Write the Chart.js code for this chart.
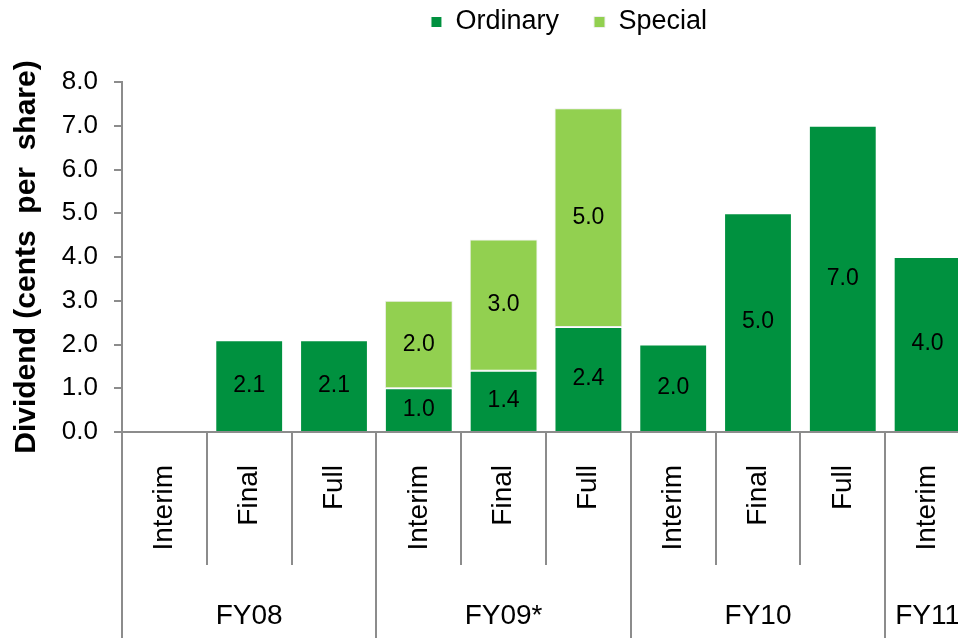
<!DOCTYPE html>
<html>
<head>
<meta charset="utf-8">
<title>Dividend</title>
<script src="https://cdn.jsdelivr.net/npm/chart.js@4.4.0/dist/chart.umd.min.js"></script>
<style>
    html, body { margin: 0; padding: 0; background: #fff; overflow: hidden; }
    #wrap { width: 970px; height: 638px; }
</style>
</head>
<body>
<div id="wrap"><canvas id="dividend-chart" width="970" height="638"></canvas></div>
<script>
    // Data
    var periods = ["Interim", "Final", "Full", "Interim", "Final", "Full", "Interim", "Final", "Full", "Interim"];
    var years = ["FY08", "FY09*", "FY10", "FY11"];
    var yearSizes = [3, 3, 3, 1];
    var ordinary = [0, 2.1, 2.1, 1.0, 1.4, 2.4, 2.0, 5.0, 7.0, 4.0];
    var special = [0, 0, 0, 2.0, 3.0, 5.0, 0, 0, 0, 0];
    var yRange = [0, 8];


    // Year groups: where the long separators go, and which column carries the year
    var yearBounds = [0];
    var yearAt = {};
    var start = 0;
    yearSizes.forEach(function (n, i) {
        yearAt[start + Math.floor((n - 1) / 2)] = years[i];
        start += n;
        yearBounds.push(start);
    });

    var axisGrey = "#8c8c8c";
    Chart.defaults.font.family = "'Liberation Sans', Arial, sans-serif";
    Chart.defaults.color = "#000000";


    // Values written in the middle of each bar piece
    var barLabels = {
        id: "barLabels",
        afterDatasetsDraw: function (chart) {
            var ctx = chart.ctx;
            ctx.save();
            ctx.font = "23px 'Liberation Sans', Arial, sans-serif";
            ctx.fillStyle = "#000000";
            ctx.textAlign = "center";
            ctx.textBaseline = "middle";
            chart.data.datasets.forEach(function (ds, i) {
                chart.getDatasetMeta(i).data.forEach(function (bar, j) {
                    var v = ds.data[j];
                    if (!v) return;
                    ctx.fillText(v.toFixed(1), bar.x, (bar.y + bar.base) / 2);
                });
            });
            ctx.restore();
        }
    };


    // Legend sits right of centre, close to the top edge
    var legendPlace = {
        id: "legendPlace",
        afterLayout: function (chart) {
            var lg = chart.legend;
            var opts = lg.options.labels;
            var dx = 569 - (lg.left + lg.right) / 2;
            var dy = 22 - (lg.top + opts.padding + opts.font.size / 2);
            lg.left += dx; lg.right += dx;
            lg.top += dy; lg.bottom += dy;
        }
    };


    var ctx1 = document.getElementById("dividend-chart").getContext("2d");
    var myChart = new Chart(ctx1, {
        type: "bar",
        data: {
            labels: periods,
            datasets: [{
                    label: "Ordinary",
                    data: ordinary,
                    backgroundColor: "#00913F",
                    borderColor: "#ffffff",
                    borderWidth: 1,
                    borderSkipped: "start",
                    categoryPercentage: 0.8,
                    barPercentage: 1.0
                },
                {
                    label: "Special",
                    data: special,
                    backgroundColor: "#92D050",
                    borderColor: "#eeeeee",
                    borderWidth: 1,
                    borderSkipped: false,
                    categoryPercentage: 0.8,
                    barPercentage: 1.0
                }
            ]
        },
        options: {
            responsive: false,
            animation: false,
            layout: { padding: { top: 10, left: 0, right: 0, bottom: 0 } },
            plugins: {
                legend: {
                    position: "top",
                    labels: {
                        boxWidth: 11,
                        boxHeight: 11,
                        padding: 35,
                        color: "#000000",
                        font: { size: 27 }
                    }
                },
                tooltip: { enabled: false }
            },
            scales: {
                x: {
                    stacked: true,
                    offset: true,
                    ticks: {
                        autoSkip: false,
                        minRotation: 90,
                        maxRotation: 90,
                        padding: -100,
                        font: { size: 28 }
                    },
                    grid: {
                        offset: true,
                        drawOnChartArea: false,
                        tickLength: 133,
                        color: axisGrey,
                        lineWidth: 2
                    },
                    border: { color: axisGrey, width: 2 },
                    afterFit: function (s) { s.height = 133; }
                },
                x2: {
                    type: "category",
                    labels: periods,
                    position: "bottom",
                    offset: true,
                    ticks: {
                        autoSkip: false,
                        minRotation: 0,
                        maxRotation: 0,
                        padding: -39,
                        font: { size: 28 },
                        callback: function (v, i) { return yearAt[i] || ""; }
                    },
                    grid: {
                        offset: true,
                        drawOnChartArea: false,
                        tickLength: 73,
                        lineWidth: 2,
                        color: function (c) {
                            return yearBounds.indexOf(c.index) >= 0 ? axisGrey : "rgba(0,0,0,0)";
                        }
                    },
                    border: { display: false },
                    afterFit: function (s) { s.height = 73; }
                },
                y: {
                    stacked: true,
                    min: yRange[0],
                    max: yRange[1],
                    ticks: {
                        stepSize: 1,
                        padding: 16,
                        font: { size: 26 },
                        callback: function (v) { return v.toFixed(1); }
                    },
                    grid: {
                        drawOnChartArea: false,
                        tickLength: 8,
                        color: axisGrey,
                        lineWidth: 2
                    },
                    border: { color: axisGrey, width: 2 },
                    title: {
                        display: true,
                        text: "Dividend (cents  per  share)",
                        color: "#000000",
                        font: { size: 30, weight: "bold" },
                        padding: { top: 9, bottom: 0 }
                    },
                    afterFit: function (s) { s.width = 122; }
                }
            }
        },
        plugins: [barLabels, legendPlace]
    });
</script>
</body>
</html>
